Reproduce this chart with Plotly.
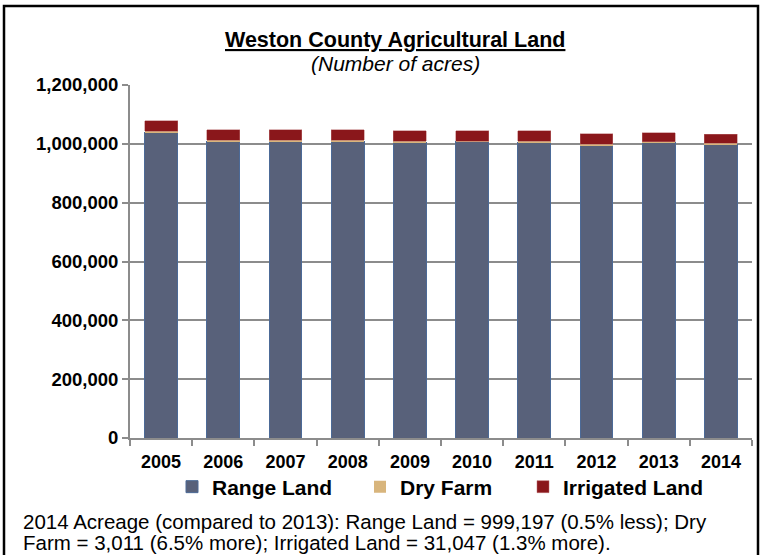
import plotly.graph_objects as go

years = ["2005", "2006", "2007", "2008", "2009", "2010", "2011", "2012", "2013", "2014"]
range_land = [1038000, 1009000, 1008500, 1008500, 1006000, 1006500, 1006000, 996000, 1004218, 999197]
dry_farm = [4000, 3500, 3400, 3300, 3200, 3100, 3000, 2900, 2827, 3011]
irrigated = [36000, 36000, 36000, 35500, 36000, 35500, 35500, 35000, 30649, 31047]

FONT = "Liberation Sans, Arial, sans-serif"

fig = go.Figure()
fig.add_trace(go.Bar(x=years, y=range_land, name="<b>Range Land</b>",
                     marker=dict(color="#58617A", line=dict(color="#4C6A97", width=1)),
                     legend="legend", showlegend=True))
fig.add_trace(go.Bar(x=years, y=dry_farm, name="<b>Dry Farm</b>",
                     marker=dict(color="#D8B57C", line=dict(width=0)),
                     legend="legend2", showlegend=True))
fig.add_trace(go.Bar(x=years, y=irrigated, name="<b>Irrigated Land</b>",
                     marker=dict(color="#8A171B", line=dict(color="#B86A6C", width=0.5)),
                     legend="legend3", showlegend=True))

L, R, T, B = 130, 10, 85, 117
W, H = 762, 555
pw, ph = W - L - R, H - T - B

def px(x):
    return (x - L) / pw

def py(y):
    return (H - B - y) / ph

leg_common = dict(orientation="h", yanchor="middle", y=py(487), xanchor="left",
                  font=dict(family=FONT, size=21, color="#000"),
                  bgcolor="rgba(0,0,0,0)", borderwidth=0, itemwidth=30, visible=True)

fig.update_layout(
    width=W, height=H,
    margin=dict(l=L, r=R, t=T, b=B),
    barmode="stack",
    bargap=0.47,
    showlegend=True,
    plot_bgcolor="white",
    paper_bgcolor="white",
    font=dict(family=FONT, color="#000"),
    legend=dict(leg_common, x=px(172)),
    legend2=dict(leg_common, x=px(360)),
    legend3=dict(leg_common, x=px(523)),
    xaxis=dict(type="category", showline=True, linecolor="#8c8c8c", linewidth=2,
               ticks="outside", tickson="boundaries", ticklen=6, tickcolor="#8c8c8c",
               tickwidth=1.5, ticklabelstandoff=6,
               tickfont=dict(family=FONT, size=18, color="#000"),
               tickprefix="<b>", ticksuffix="</b>"),
    yaxis=dict(range=[0, 1200000], dtick=200000, tickformat=",",
               showline=True, linecolor="#8c8c8c", linewidth=2,
               ticks="outside", ticklen=6, tickcolor="#8c8c8c", tickwidth=1.5,
               showgrid=True, gridcolor="#8c8c8c", gridwidth=2, zeroline=False,
               tickfont=dict(family=FONT, size=18.5, color="#000"),
               tickprefix="<b>", ticksuffix="</b>"),
    annotations=[
        dict(text="<b><u>Weston County Agricultural Land</u></b>", x=px(395), y=py(40),
             xref="paper", yref="paper", showarrow=False, xanchor="center", yanchor="middle",
             font=dict(family=FONT, size=21.5, color="#000")),
        dict(text="<i>(Number of acres)</i>", x=px(395), y=py(64),
             xref="paper", yref="paper", showarrow=False, xanchor="center", yanchor="middle",
             font=dict(family=FONT, size=21, color="#000")),
        dict(text="2014 Acreage (compared to 2013): Range Land = 999,197 (0.5% less); Dry",
             x=px(21), y=py(521), xref="paper", yref="paper", showarrow=False,
             xanchor="left", yanchor="middle", font=dict(family=FONT, size=20.5, color="#000")),
        dict(text="Farm = 3,011 (6.5% more); Irrigated Land = 31,047 (1.3% more).",
             x=px(21), y=py(542), xref="paper", yref="paper", showarrow=False,
             xanchor="left", yanchor="middle", font=dict(family=FONT, size=20.5, color="#000")),
    ],
    shapes=[
        dict(type="rect", xref="paper", yref="paper", x0=px(4), x1=px(758), y0=py(600), y1=py(6),
             line=dict(color="#000", width=2.5), fillcolor="rgba(0,0,0,0)", layer="above"),
    ],
)

fig.write_html("out.html", config={"displayModeBar": False},
               post_script="document.body.style.margin='0';document.body.style.padding='0';")
